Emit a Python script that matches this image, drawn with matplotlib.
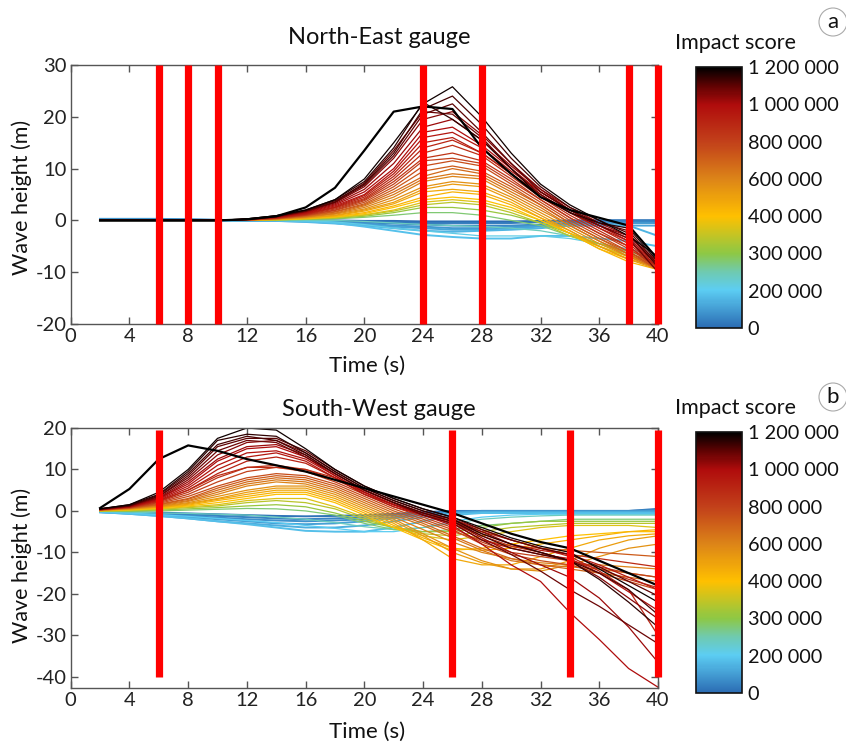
import numpy as np
import matplotlib
matplotlib.use("Agg")
import matplotlib.pyplot as plt
from matplotlib.colors import LinearSegmentedColormap, Normalize
from matplotlib.cm import ScalarMappable
from matplotlib.patches import Circle

plt.rcParams['font.family'] = ['Lato', 'DejaVu Sans']
plt.rcParams['axes.unicode_minus'] = False

# ---------------- data ----------------
time_s = [2, 4, 6, 8, 10, 12, 14, 16, 18, 20, 22, 24, 26, 28, 30, 32, 34, 36, 38, 40]

score_ticks = [0, 200000, 300000, 400000, 600000, 800000, 1000000, 1200000]
score_tick_labels = ["0", "200 000", "300 000", "400 000", "600 000",
                     "800 000", "1 000 000", "1 200 000"]

ne_red_bars = [6, 8, 10, 24, 28, 38, 40]
sw_red_bars = [6, 26, 34, 40]

ne_scores = [0, 30000, 60000, 90000, 120000, 150000, 180000, 210000, 240000,
             280000, 310000, 340000, 370000, 400000, 440000, 480000, 520000,
             560000, 600000, 640000, 680000, 720000, 760000, 800000, 840000,
             870000, 900000, 930000, 960000, 1000000, 1020000, 1050000,
             1080000, 1100000, 1120000, 1150000, 1180000, 1200000]
ne_heights = [
    [0, 0, 0, 0, 0, 0, 0, 0, 0, -0.1, -0.1, -0.2, -0.2, -0.2, -0.2, -0.1, 0, 0, 0, 0],
    [0, 0, 0, 0, 0, 0, 0, 0, -0.1, -0.2, -0.3, -0.5, -0.5, -0.5, -0.5, -0.3, -0.2, 0, 0, 0],
    [0.2, 0.2, 0.2, 0.2, 0.1, 0, 0, -0.1, -0.2, -0.4, -0.6, -0.8, -1.0, -1.0, -1.0, -0.8, -0.5, -0.3, -0.2, -0.2],
    [0.3, 0.3, 0.3, 0.2, 0.1, 0, 0, -0.1, -0.3, -0.6, -1.0, -1.2, -1.5, -1.5, -1.2, -1.0, -0.8, -0.5, -0.5, -0.5],
    [0, 0, 0, 0, 0, 0, -0.1, -0.2, -0.5, -0.8, -1.2, -1.5, -1.8, -1.8, -1.5, -1.2, -1.0, -1.0, -1.0, -1.0],
    [0, 0, 0, 0, 0, 0, -0.1, -0.3, -0.6, -1.0, -1.5, -2.0, -2.2, -2.0, -1.8, -1.5, -1.0, -0.8, -1.0, -3.0],
    [0, 0, 0, 0, 0, 0, 0, -0.2, -0.5, -1.2, -2.0, -2.8, -3.2, -3.5, -3.5, -3.0, -3.0, -3.5, -4.0, -5.0],
    [0, 0, 0, 0, 0, 0, 0, -0.1, -0.3, -0.8, -1.5, -2.0, -2.5, -3.0, -3.0, -3.0, -3.5, -4.5, -5.5, -7.0],
    [0, 0, 0, 0, 0, 0, 0, 0, 0, -0.2, -0.5, -0.8, -1.0, -1.2, -1.5, -2.0, -3.0, -4.5, -6.0, -7.5],
    [0, 0, 0, 0, 0, 0, 0.1, 0.2, 0.3, 0.6, 1.0, 1.5, 1.5, 1.0, 0, -1.0, -3.0, -4.5, -6.0, -7.5],
    [0, 0, 0, 0, 0, 0, 0.1, 0.2, 0.4, 0.8, 1.5, 2.5, 2.5, 2.0, 1.0, -0.5, -2.5, -4.5, -6.5, -8.0],
    [0, 0, 0, 0, 0, 0.1, 0.1, 0.3, 0.5, 1.0, 1.8, 3.0, 3.5, 3.0, 1.5, -0.5, -3.0, -5.0, -7.0, -8.5],
    [0, 0, 0, 0, 0, 0.1, 0.1, 0.3, 0.6, 1.1, 2.0, 3.5, 4.0, 3.5, 2.0, 0, -2.5, -5.0, -7.0, -8.5],
    [0, 0, 0, 0, 0, 0.1, 0.2, 0.4, 0.7, 1.3, 2.5, 4.0, 4.5, 4.0, 2.5, 0, -2.5, -5.5, -7.5, -9.0],
    [0, 0, 0, 0, 0, 0.1, 0.2, 0.4, 0.8, 1.5, 2.8, 4.5, 5.5, 5.0, 3.0, 0.5, -2.5, -5.5, -8.0, -9.5],
    [0, 0, 0, 0, 0, 0.1, 0.2, 0.5, 0.9, 1.8, 3.2, 5.5, 6.0, 5.5, 3.5, 0.5, -2.0, -5.0, -7.5, -9.0],
    [0, 0, 0, 0, 0, 0.1, 0.2, 0.5, 1.0, 2.0, 3.5, 6.0, 7.0, 6.5, 4.0, 1.0, -2.0, -5.0, -7.5, -9.5],
    [0, 0, 0, 0, 0, 0.1, 0.3, 0.6, 1.2, 2.2, 4.0, 6.5, 7.5, 7.0, 4.5, 1.5, -1.5, -4.5, -7.0, -9.0],
    [0, 0, 0, 0, 0, 0.1, 0.3, 0.7, 1.3, 2.5, 4.5, 7.5, 8.5, 8.0, 5.0, 2.0, -1.0, -4.0, -7.0, -9.5],
    [0, 0, 0, 0, 0, 0.1, 0.3, 0.7, 1.4, 2.8, 5.0, 8.0, 9.0, 8.5, 5.5, 2.5, -1.0, -4.0, -6.5, -9.0],
    [0, 0, 0, 0, 0, 0.1, 0.3, 0.8, 1.6, 3.0, 5.5, 8.5, 10.0, 9.0, 6.0, 3.0, -0.5, -3.5, -6.5, -9.5],
    [0, 0, 0, 0, 0, 0.1, 0.4, 0.9, 1.7, 3.2, 6.0, 9.5, 10.5, 9.5, 6.5, 3.0, -0.5, -3.5, -6.0, -9.0],
    [0, 0, 0, 0, 0, 0.1, 0.4, 1.0, 1.9, 3.5, 6.5, 10.5, 11.5, 10.5, 7.0, 3.5, 0, -3.0, -6.0, -9.5],
    [0, 0, 0, 0, 0, 0.1, 0.4, 1.0, 2.0, 3.8, 7.0, 11.5, 12.0, 11.0, 7.5, 4.0, 0.5, -2.5, -5.5, -9.0],
    [0, 0, 0, 0, 0, 0.1, 0.5, 1.1, 2.2, 4.0, 7.5, 12.0, 13.0, 11.5, 8.0, 4.0, 0.5, -2.5, -5.0, -9.5],
    [0, 0, 0, 0, 0, 0.2, 0.5, 1.2, 2.4, 4.2, 8.0, 13.0, 14.5, 12.5, 8.5, 4.5, 1.0, -2.0, -5.0, -9.0],
    [0, 0, 0, 0, 0, 0.2, 0.5, 1.2, 2.5, 4.5, 8.5, 14.0, 15.5, 13.0, 9.0, 5.0, 1.5, -1.5, -4.5, -9.0],
    [0, 0, 0, 0, 0, 0.2, 0.6, 1.3, 2.6, 4.8, 9.0, 15.0, 16.0, 13.0, 9.0, 5.0, 1.5, -1.5, -4.0, -8.5],
    [0, 0, 0, 0, 0, 0.2, 0.6, 1.4, 2.8, 5.0, 9.5, 16.0, 17.0, 14.0, 9.5, 5.5, 2.0, -1.0, -4.0, -9.0],
    [0, 0, 0, 0, 0, 0.2, 0.6, 1.5, 3.0, 5.5, 10.0, 17.0, 18.0, 14.5, 10.0, 5.5, 2.0, -1.0, -3.5, -8.5],
    [0, 0, 0, 0, 0, 0.2, 0.7, 1.6, 3.2, 6.0, 11.0, 18.0, 19.5, 15.5, 10.5, 6.0, 2.5, -0.5, -3.0, -8.0],
    [0, 0, 0, 0, 0, 0.2, 0.7, 1.7, 3.4, 6.5, 12.0, 19.5, 21.0, 16.5, 11.0, 6.0, 2.0, -1.0, -3.0, -8.5],
    [0, 0, 0, 0, 0, 0.2, 0.7, 1.8, 3.6, 7.2, 13.5, 21.0, 20.5, 16.0, 10.0, 5.0, 1.5, -1.0, -3.5, -10.0],
    [0, 0, 0, 0, 0, 0.2, 0.8, 1.8, 3.5, 6.8, 12.5, 20.5, 22.5, 17.0, 11.0, 5.5, 2.0, -0.5, -2.0, -8.5],
    [0, 0, 0, 0, 0, 0.2, 0.8, 1.9, 3.8, 7.0, 13.0, 21.5, 24.0, 18.5, 12.0, 6.5, 2.5, 0, -2.5, -9.0],
    [0, 0, 0, 0, 0, 0.3, 0.9, 2.0, 4.0, 7.5, 14.0, 22.8, 19.5, 15.5, 10.0, 4.5, 1.5, -0.5, -1.5, -8.0],
    [0, 0, 0, 0, 0, 0.3, 0.9, 2.0, 4.0, 8.0, 15.0, 22.5, 25.8, 20.0, 13.0, 7.0, 3.0, 0, -3.0, -7.0],
    [0, 0, 0, 0, 0, 0.2, 0.8, 2.5, 6.3, 13.5, 21.0, 22.0, 21.5, 14.0, 9.0, 4.5, 2.0, 0.5, -1.0, -7.5],
]

sw_scores = [20000, 50000, 80000, 110000, 140000, 170000, 200000, 240000,
             280000, 310000, 340000, 370000, 400000, 440000, 480000, 520000,
             560000, 600000, 640000, 680000, 720000, 760000, 800000, 850000,
             880000, 920000, 950000, 980000, 1000000, 1020000, 1050000,
             1080000, 1100000, 1120000, 1150000, 1180000, 1200000]
sw_heights = [
    [-0.1, -0.3, -0.4, -0.6, -0.8, -1.0, -1.2, -1.3, -1.2, -1.0, -0.7, -0.3, 0, 0, 0, 0, 0, 0, 0, 0.5],
    [-0.2, -0.4, -0.6, -0.9, -1.2, -1.5, -1.8, -2.0, -1.8, -1.5, -1.0, -0.5, -0.2, 0, 0, 0, 0, 0, 0, 0],
    [-0.2, -0.5, -0.8, -1.2, -1.6, -2.0, -2.3, -2.5, -2.3, -2.0, -1.5, -0.8, -0.3, 0, 0, 0, 0, 0, 0, 0.2],
    [-0.3, -0.6, -1.0, -1.5, -2.0, -2.5, -3.0, -3.2, -3.0, -2.5, -1.8, -1.0, -0.5, -0.2, -0.2, -0.2, -0.2, -0.2, -0.2, 0],
    [-0.3, -0.7, -1.2, -1.8, -2.5, -3.0, -3.5, -4.0, -4.0, -3.5, -2.5, -1.5, -0.5, -0.3, -0.3, -0.3, -0.3, -0.3, -0.3, -0.3],
    [-0.3, -0.7, -1.2, -1.8, -2.5, -3.2, -4.0, -4.8, -5.0, -5.0, -4.0, -2.5, -1.0, -0.5, -0.5, -0.5, -0.5, -0.5, -0.5, -0.5],
    [-0.2, -0.5, -0.9, -1.3, -1.8, -2.3, -2.8, -3.5, -4.2, -5.0, -5.0, -4.0, -2.5, -1.5, -1.0, -0.8, -0.8, -0.8, -0.8, -0.8],
    [-0.1, -0.3, -0.5, -0.6, -0.8, -1.0, -1.5, -2.0, -2.8, -3.8, -4.5, -4.0, -3.0, -2.0, -1.5, -1.2, -1.0, -1.0, -1.0, -1.0],
    [0, -0.1, 0, 0.2, 0.4, 0.6, 0.5, 0, -1.0, -3.0, -4.5, -5.0, -4.5, -3.5, -3.0, -2.5, -2.0, -2.0, -2.0, -2.0],
    [0, 0, 0.2, 0.5, 0.8, 1.2, 1.5, 1.0, -0.5, -2.5, -4.0, -5.0, -5.0, -4.0, -3.0, -2.5, -2.5, -2.5, -2.5, -2.5],
    [0, 0.1, 0.4, 0.8, 1.2, 2.0, 2.5, 2.0, 0.5, -2.0, -4.0, -5.5, -6.0, -5.0, -4.0, -3.5, -3.0, -3.0, -3.0, -3.0],
    [0, 0.2, 0.5, 1.0, 1.5, 2.5, 3.0, 3.0, 1.0, -1.5, -4.0, -6.0, -7.0, -6.0, -5.0, -4.0, -3.5, -3.5, -3.5, -4.0],
    [0.1, 0.3, 0.7, 1.2, 2.0, 3.0, 4.0, 4.0, 2.0, -1.0, -4.0, -7.0, -9.5, -9.0, -8.0, -7.0, -6.0, -5.5, -5.0, -5.0],
    [0.1, 0.4, 0.8, 1.4, 2.5, 3.5, 4.5, 4.5, 2.5, -0.5, -3.5, -6.5, -9.0, -9.5, -9.0, -8.0, -7.0, -6.0, -5.0, -4.5],
    [0.1, 0.4, 0.9, 1.6, 2.8, 4.0, 5.0, 5.0, 3.0, 0, -3.0, -7.0, -11.5, -13.0, -13.0, -11.0, -9.0, -7.0, -6.0, -5.5],
    [0.2, 0.5, 1.0, 1.8, 3.0, 4.5, 5.5, 5.5, 3.5, 0.5, -2.5, -6.0, -10.0, -12.5, -14.0, -14.0, -12.0, -9.0, -7.0, -6.0],
    [0.2, 0.5, 1.1, 2.0, 3.5, 5.0, 6.0, 6.0, 4.0, 1.0, -2.0, -5.5, -9.0, -12.0, -14.0, -14.5, -13.0, -11.0, -9.0, -8.0],
    [0.2, 0.6, 1.2, 2.3, 4.0, 6.0, 7.0, 6.5, 4.5, 1.5, -1.5, -4.5, -7.5, -10.0, -11.5, -12.5, -13.0, -13.0, -13.5, -14.0],
    [0.2, 0.6, 1.4, 2.5, 4.5, 6.5, 7.5, 7.0, 5.0, 2.0, -1.0, -3.5, -6.5, -9.5, -12.0, -13.0, -13.5, -14.0, -15.0, -16.0],
    [0.2, 0.7, 1.5, 2.8, 5.0, 7.0, 8.0, 7.5, 5.5, 2.5, -0.5, -3.0, -6.0, -9.0, -11.5, -13.0, -14.0, -15.0, -16.0, -17.0],
    [0.3, 0.7, 1.6, 3.0, 5.5, 7.5, 8.5, 8.0, 6.0, 3.0, 0, -2.5, -5.0, -7.0, -8.5, -9.0, -9.5, -10.0, -10.5, -11.0],
    [0.3, 0.8, 1.8, 3.5, 6.0, 8.0, 9.0, 8.5, 6.5, 3.5, 0.5, -2.0, -4.5, -8.0, -10.5, -12.0, -13.0, -15.0, -17.0, -19.0],
    [0.3, 0.8, 2.0, 4.0, 7.0, 9.5, 10.5, 9.5, 7.0, 4.0, 1.0, -1.5, -4.0, -7.5, -10.0, -11.0, -12.0, -13.5, -15.0, -16.0],
    [0.3, 0.9, 2.2, 4.5, 8.0, 10.5, 11.0, 10.0, 7.5, 4.5, 1.5, -1.0, -3.0, -6.0, -8.5, -10.0, -12.0, -14.0, -16.5, -18.5],
    [0.3, 0.9, 2.3, 5.0, 8.5, 10.5, 10.5, 10.0, 8.0, 5.0, 2.0, -0.5, -2.5, -5.0, -7.0, -9.0, -10.5, -11.5, -12.5, -13.5],
    [0.3, 1.0, 2.5, 5.0, 9.0, 12.0, 13.0, 11.5, 8.0, 4.0, 1.5, -0.5, -2.0, -4.5, -7.0, -9.0, -11.0, -14.5, -19.0, -30.0],
    [0.4, 1.0, 2.6, 5.5, 10.0, 13.0, 14.0, 12.0, 8.0, 4.0, 1.0, -1.0, -2.5, -5.5, -8.0, -9.5, -10.5, -13.0, -16.0, -19.0],
    [0.4, 1.0, 2.8, 6.0, 11.0, 14.0, 14.5, 12.5, 8.5, 4.5, 1.5, -1.0, -3.0, -7.0, -9.0, -10.5, -11.5, -15.0, -19.5, -24.0],
    [0.4, 1.1, 3.0, 6.5, 12.0, 15.0, 15.5, 13.0, 8.5, 4.5, 1.5, -1.0, -3.5, -8.0, -13.0, -17.0, -24.5, -31.0, -38.0, -42.5],
    [0.4, 1.1, 3.0, 7.0, 12.5, 15.5, 16.0, 13.5, 9.0, 5.0, 2.0, -0.5, -2.5, -6.5, -10.0, -13.0, -16.0, -21.0, -28.0, -36.5],
    [0.4, 1.2, 3.2, 7.5, 13.5, 16.5, 17.0, 14.0, 9.5, 5.5, 2.5, 0, -2.0, -5.0, -8.0, -10.0, -12.0, -16.0, -21.0, -26.0],
    [0.4, 1.2, 3.5, 8.0, 14.5, 17.0, 16.5, 13.0, 9.0, 5.0, 2.0, -1.0, -3.0, -7.0, -10.5, -14.5, -19.0, -23.0, -27.5, -32.0],
    [0.5, 1.3, 3.5, 8.5, 15.5, 17.5, 17.5, 14.5, 10.0, 6.0, 3.0, 0.5, -1.5, -4.5, -7.0, -9.0, -10.5, -13.5, -17.0, -20.5],
    [0.5, 1.3, 3.8, 9.0, 16.0, 18.0, 17.0, 13.5, 9.0, 5.0, 2.0, -0.5, -2.5, -6.0, -9.0, -10.5, -12.0, -15.0, -19.0, -25.0],
    [0.5, 1.5, 4.0, 9.5, 17.0, 18.5, 18.0, 14.0, 9.5, 5.5, 2.5, 0, -2.0, -5.5, -8.0, -10.0, -12.0, -16.5, -22.0, -28.0],
    [0.5, 1.5, 4.5, 10.0, 17.5, 20.0, 19.5, 15.0, 10.0, 6.0, 3.0, 0.5, -1.5, -4.0, -6.5, -8.5, -10.0, -14.0, -18.0, -22.0],
    [0.7, 5.3, 12.5, 15.8, 14.5, 12.5, 11.0, 9.5, 7.5, 5.5, 3.5, 1.5, -0.5, -3.0, -5.5, -7.5, -9.0, -12.0, -15.0, -18.0],
]

# ---------------- colormap ----------------
cmap_colors = [
    (0.0, "#2b6cb3"),
    (1 / 7, "#5ccdf3"),
    (1.5 / 7, "#6fcab0"),
    (2 / 7, "#8dc845"),
    (3 / 7, "#ffc000"),
    (4 / 7, "#dc8418"),
    (5 / 7, "#c2401a"),
    (6 / 7, "#b00c0c"),
    (6.5 / 7, "#5e0202"),
    (1.0, "#000000"),
]
cmap = LinearSegmentedColormap.from_list("impact", cmap_colors)
tick_pos = np.linspace(0, 1, len(score_ticks))


def score_to_pos(s):
    return np.interp(s, score_ticks, tick_pos)


# ---------------- figure ----------------
W, H = 846, 747
fig = plt.figure(figsize=(W / 100, H / 100), dpi=100)
fig.patch.set_facecolor("white")


def fx(px):
    return px / W


def fy(py):
    return 1 - py / H


def style_axes(ax, yticks):
    ax.set_xlim(0, 40)
    ax.set_xticks(np.arange(0, 41, 4))
    ax.set_yticks(yticks)
    ax.tick_params(direction="in", length=5, width=1, colors="#555555",
                   labelcolor="#222222", labelsize=14.5, top=True, right=True,
                   labeltop=False, labelright=False, pad=3)
    for sp in ax.spines.values():
        sp.set_color("#555555")
        sp.set_linewidth(1.0)
    ax.set_facecolor("white")


panels = [
    dict(top=65, bottom=324, ylim=(-20, 30), yticks=np.arange(-20, 31, 10),
         scores=ne_scores, heights=ne_heights, bars=ne_red_bars,
         bar_span=None, title="North-East gauge", title_y=38, time_y=366,
         ylabel_y=197, cb_top=67, cb_bottom=328, imp_y=43, letter="a",
         letter_y=22),
    dict(top=428, bottom=688, ylim=(-42.7, 20), yticks=np.arange(-40, 21, 10),
         scores=sw_scores, heights=sw_heights, bars=sw_red_bars,
         bar_span=(19.5, -40), title="South-West gauge", title_y=409,
         time_y=732, ylabel_y=565, cb_top=432, cb_bottom=693, imp_y=408,
         letter="b", letter_y=397),
]

ax_left, ax_right = 70.7, 658.0
for p in panels:
    ax = fig.add_axes([fx(ax_left), fy(p["bottom"]), fx(ax_right - ax_left),
                       (p["bottom"] - p["top"]) / H])
    style_axes(ax, p["yticks"])
    ax.set_ylim(*p["ylim"])
    order = np.argsort(p["scores"])
    for i in order:
        s = p["scores"][i]
        c = cmap(score_to_pos(s))
        if s >= 1200000:
            lw = 1.6
        elif s < 200000:
            lw = 1.4
        else:
            lw = 0.9
        ax.plot(time_s, p["heights"][i], color=c, lw=lw, zorder=2)
    for b in p["bars"]:
        if p["bar_span"] is None:
            ax.axvline(b, color="#ff0000", lw=5.2, zorder=5, clip_on=False,
                       solid_capstyle="butt")
        else:
            ax.plot([b, b], list(p["bar_span"]), color="#ff0000", lw=5.2,
                    zorder=5, clip_on=False, solid_capstyle="butt")

    fig.text(fx(379), fy(p["title_y"]), p["title"], ha="center", va="center",
             fontsize=17, color="#111111")
    fig.text(fx(367), fy(p["time_y"]), "Time (s)", ha="center", va="center",
             fontsize=16, color="#111111")
    fig.text(fx(22), fy(p["ylabel_y"]), "Wave height (m)", ha="center",
             va="center", rotation=90, fontsize=15.5, color="#111111")

    # colorbar
    cax = fig.add_axes([fx(696), fy(p["cb_bottom"]), fx(46),
                        (p["cb_bottom"] - p["cb_top"]) / H])
    sm = ScalarMappable(norm=Normalize(0, 1), cmap=cmap)
    cb = fig.colorbar(sm, cax=cax, orientation="vertical")
    cb.set_ticks(tick_pos)
    cb.set_ticklabels(score_tick_labels)
    cb.ax.tick_params(length=0, labelsize=14.3, pad=4, labelcolor="#111111")
    cb.outline.set_linewidth(1.2)
    cb.outline.set_edgecolor("#111111")
    fig.text(fx(735), fy(p["imp_y"]), "Impact score", ha="center",
             va="center", fontsize=15.5, color="#111111")

    # panel letter
    circ = Circle((833, H - p["letter_y"]), 14,
                  transform=None, facecolor="white", edgecolor="#aaaaaa",
                  lw=0.8)
    fig.patches.append(circ)
    fig.text(fx(833), fy(p["letter_y"]), p["letter"], ha="center",
             va="center", fontsize=16, color="#111111")

fig.savefig("out.png", dpi=100)
